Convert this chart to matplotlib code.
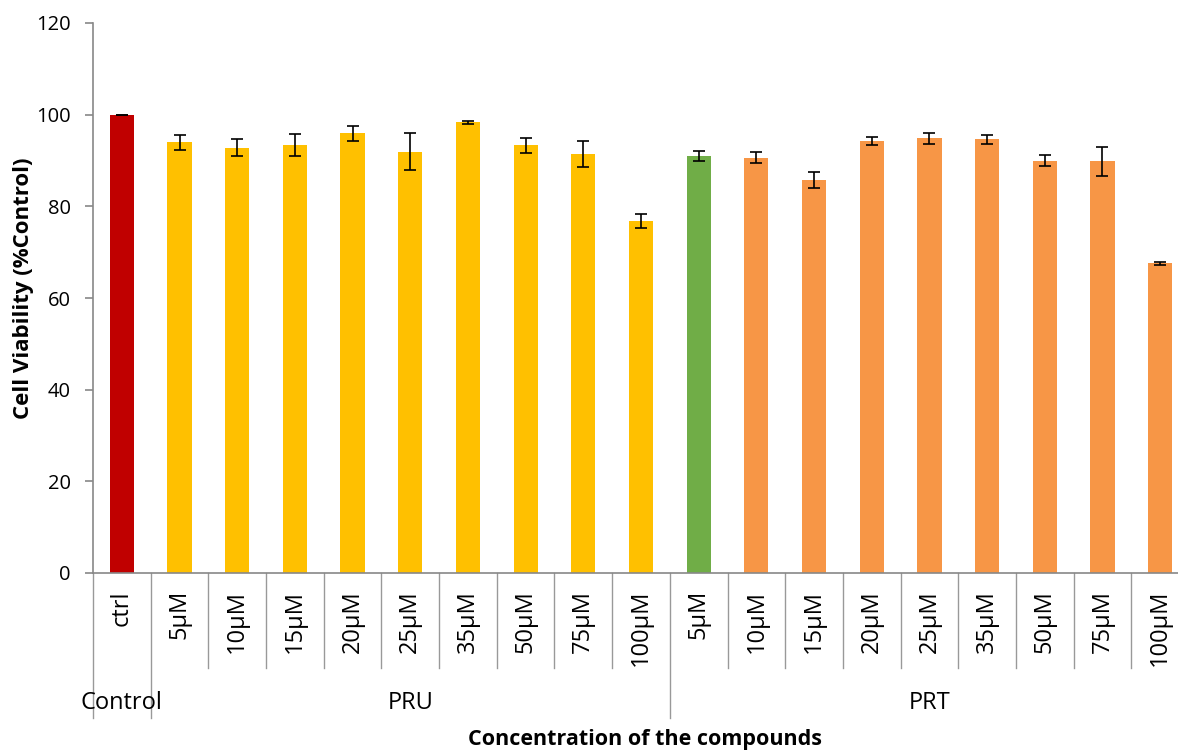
import matplotlib
matplotlib.use("Agg")
import matplotlib.pyplot as plt
from matplotlib.transforms import blended_transform_factory

plt.rcParams['font.family'] = ['Open Sans', 'DejaVu Sans']

categories = ["ctrl", "5µM", "10µM", "15µM", "20µM", "25µM", "35µM", "50µM", "75µM", "100µM",
              "5µM", "10µM", "15µM", "20µM", "25µM", "35µM", "50µM", "75µM", "100µM"]
values = [100.0, 94.0, 92.8, 93.3, 95.9, 91.9, 98.3, 93.3, 91.4, 76.8,
          91.0, 90.6, 85.7, 94.3, 94.9, 94.6, 90.0, 89.8, 67.6]
errors = [0.0, 1.6, 1.8, 2.4, 1.6, 4.0, 0.4, 1.7, 2.8, 1.5,
          1.1, 1.2, 1.7, 0.9, 1.2, 0.9, 1.2, 3.1, 0.3]
colors = ["#C00000"] + ["#FFC000"] * 9 + ["#70AD47"] + ["#F79646"] * 8
groups = ["Control", "PRU", "PRT"]
group_sizes = [1, 9, 9]
yticks = [0, 20, 40, 60, 80, 100, 120]

fig = plt.figure(figsize=(11.78, 7.51), dpi=100)
W, H = 1178, 751
left, right, top, bottom = 93, 1189, 23, 573
ax = fig.add_axes([left / W, 1 - bottom / H, (right - left) / W, (bottom - top) / H])

x = list(range(len(categories)))
ax.bar(x, values, width=0.42, color=colors, zorder=2)
ax.errorbar(x, values, yerr=errors, fmt='none', ecolor='black', elinewidth=1.2,
            capsize=4, capthick=1.2, zorder=3)

ax.set_xlim(-0.5, len(categories) - 0.5)
ax.set_ylim(0, 120)
ax.set_yticks(yticks)
ax.set_yticklabels([str(t) for t in yticks], fontsize=14.5)
ax.tick_params(axis='y', direction='out', length=6, color='#888888', width=1.2, pad=10)
for s in ['top', 'right']:
    ax.spines[s].set_visible(False)
ax.spines['left'].set_color('#888888')
ax.spines['bottom'].set_color('#888888')
ax.spines['left'].set_linewidth(1.2)
ax.spines['bottom'].set_linewidth(1.2)

ax.set_xticks([])
trans = blended_transform_factory(ax.transData, ax.transAxes)
axh = bottom - top
short = -95 / axh
long = -145 / axh

# category tick labels
for xi, lab in zip(x, categories):
    ax.text(xi, -17 / axh, lab, rotation=90, ha='center', va='top', fontsize=17,
            transform=trans)

# separators
boundaries = [-0.5]
acc = 0
for g in group_sizes:
    acc += g
    boundaries.append(acc - 0.5)
for b in range(len(categories) + 1):
    pos = b - 0.5
    yend = long if pos in boundaries else short
    ax.plot([pos, pos], [0, yend], color='#999999', lw=1, transform=trans, clip_on=False)

# group labels
start = 0
for g, n in zip(groups, group_sizes):
    center = start + (n - 1) / 2
    ax.text(center, -130 / axh, g, ha='center', va='center', fontsize=17, transform=trans)
    start += n

fig.text(645 / W, 1 - 739 / H, "Concentration of the compounds", ha='center', va='center',
         fontsize=15.5, fontweight='bold')
fig.text(24 / W, 1 - 288 / H, "Cell Viability (%Control)", ha='center', va='center',
         rotation=90, fontsize=16, fontweight='bold')

fig.savefig("out.png", dpi=100)
